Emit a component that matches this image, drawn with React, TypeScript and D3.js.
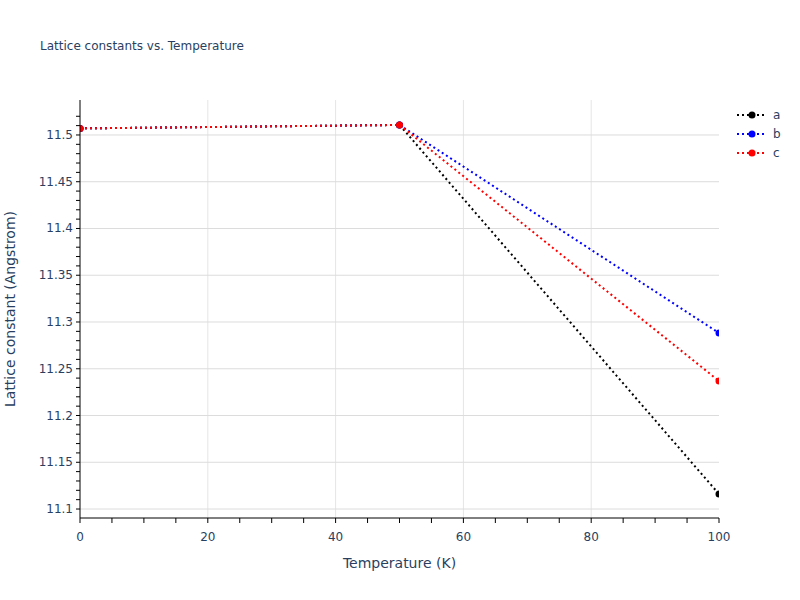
import * as d3 from 'd3';

const temps = [0, 50, 100];
const seriesNames = ['a', 'b', 'c'];
const seriesColors = ['#000000', '#0000ff', '#ff0000'];
const valuesA = [11.507, 11.5107, 11.116];
const valuesB = [11.507, 11.5107, 11.2882];
const valuesC = [11.507, 11.5107, 11.2369];
const xTicks = [0, 20, 40, 60, 80, 100];
const yTicks = [11.1, 11.15, 11.2, 11.25, 11.3, 11.35, 11.4, 11.45, 11.5];

const WIDTH = 800;
const HEIGHT = 600;
const MARGINS = { top: 100, right: 81, bottom: 82, left: 80 };
const FONT = '"DejaVu Sans", verdana, arial, sans-serif';
const TEXT = '#2a3f5f';

export default function App() {
  const x = d3
    .scaleLinear()
    .domain([0, 100])
    .range([MARGINS.left, WIDTH - MARGINS.right]);
  const y = d3
    .scaleLinear()
    .domain([11.0904, 11.5374])
    .range([HEIGHT - MARGINS.bottom, MARGINS.top]);

  const line = d3
    .line<number>()
    .x((_, i) => x(temps[i]))
    .y((v) => y(v));

  const allSeries = [valuesA, valuesB, valuesC];
  const minorX = d3.range(0, 101, 5);
  const minorY = d3.range(11.1, 11.53, 0.01);
  const plotBottom = HEIGHT - MARGINS.bottom;

  return (
    <svg
      width={WIDTH}
      height={HEIGHT}
      style={{ position: 'absolute', left: 0, top: 0, background: '#fff' }}
      fontFamily={FONT}
    >
      <defs>
        <clipPath id="plot-clip">
          <rect
            x={MARGINS.left}
            y={MARGINS.top}
            width={WIDTH - MARGINS.left - MARGINS.right}
            height={plotBottom - MARGINS.top}
          />
        </clipPath>
      </defs>

      {/* grid */}
      {xTicks.slice(1, -1).map((t) => (
        <line
          key={`gx${t}`}
          x1={x(t)}
          x2={x(t)}
          y1={MARGINS.top}
          y2={plotBottom}
          stroke="#e5e5e5"
        />
      ))}
      {yTicks.map((t) => (
        <line
          key={`gy${t}`}
          x1={MARGINS.left}
          x2={WIDTH - MARGINS.right}
          y1={y(t)}
          y2={y(t)}
          stroke="#dcdcdc"
        />
      ))}

      {/* series */}
      <g clipPath="url(#plot-clip)">
        {allSeries.map((vals, i) => (
          <g key={seriesNames[i]}>
            <path
              d={line(vals) ?? ''}
              fill="none"
              stroke={seriesColors[i]}
              strokeWidth={2}
              strokeDasharray="2,3"
            />
            {vals.map((v, j) => (
              <circle key={j} cx={x(temps[j])} cy={y(v)} r={3.5} fill={seriesColors[i]} />
            ))}
          </g>
        ))}
      </g>

      {/* axes */}
      <line x1={MARGINS.left} x2={WIDTH - MARGINS.right} y1={plotBottom} y2={plotBottom} stroke="#000" />
      <line x1={MARGINS.left} x2={MARGINS.left} y1={MARGINS.top} y2={plotBottom} stroke="#000" />
      {minorX.map((t) => (
        <line key={`tx${t}`} x1={x(t)} x2={x(t)} y1={plotBottom} y2={plotBottom + 5} stroke="#000" />
      ))}
      {minorY.map((t) => (
        <line
          key={`ty${t}`}
          x1={MARGINS.left - 4}
          x2={MARGINS.left}
          y1={y(t)}
          y2={y(t)}
          stroke="#000"
        />
      ))}
      {xTicks.map((t) => (
        <text key={`lx${t}`} x={x(t)} y={plotBottom + 23} textAnchor="middle" fontSize={12} fill={TEXT}>
          {t}
        </text>
      ))}
      {yTicks.map((t) => (
        <text key={`ly${t}`} x={MARGINS.left - 7} y={y(t) + 4} textAnchor="end" fontSize={12} fill={TEXT}>
          {d3.format('~g')(t)}
        </text>
      ))}

      {/* titles */}
      <text x={40} y={50} fontSize={12} fill={TEXT}>
        Lattice constants vs. Temperature
      </text>
      <text x={(MARGINS.left + WIDTH - MARGINS.right) / 2} y={568} textAnchor="middle" fontSize={14} fill={TEXT}>
        Temperature (K)
      </text>
      <text
        transform={`translate(15,${(MARGINS.top + plotBottom) / 2}) rotate(-90)`}
        textAnchor="middle"
        fontSize={14}
        fill={TEXT}
      >
        Lattice constant (Angstrom)
      </text>

      {/* legend */}
      {seriesNames.map((name, i) => {
        const ly = 115 + i * 19;
        return (
          <g key={`leg${name}`}>
            <line
              x1={737}
              x2={767}
              y1={ly}
              y2={ly}
              stroke={seriesColors[i]}
              strokeWidth={2}
              strokeDasharray="2,3"
            />
            <circle cx={752} cy={ly} r={3.5} fill={seriesColors[i]} />
            <text x={773} y={ly + 4} fontSize={12} fill={TEXT}>
              {name}
            </text>
          </g>
        );
      })}
    </svg>
  );
}
